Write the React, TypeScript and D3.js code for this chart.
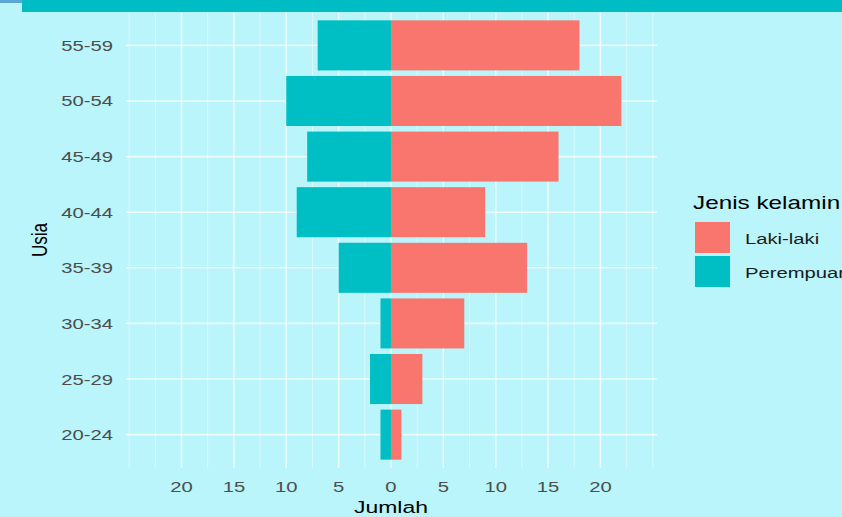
import React from 'react';
import * as d3 from 'd3';

const ageGroups = ['55-59', '50-54', '45-49', '40-44', '35-39', '30-34', '25-29', '20-24'];
const maleCounts = [18, 22, 16, 9, 13, 7, 3, 1];
const femaleCounts = [7, 10, 8, 9, 5, 1, 2, 1];
const majorTicks = [-20, -15, -10, -5, 0, 5, 10, 15, 20];
const minorTicks = [-25, -22.5, -17.5, -12.5, -7.5, -2.5, 2.5, 7.5, 12.5, 17.5, 22.5, 25];
const seriesNames = ['Laki-laki', 'Perempuan'];
const seriesColors = ['#F8766D', '#00BFC4'];

const W = 842;
const H = 517;
const BG = '#b9f5fb';
const SX = 1.35;
const FONT = '"Liberation Sans", Arial, sans-serif';

const panel = { left: 126, right: 657, top: 12, bottom: 468 };

function SText(props: {
  x: number; y: number; size: number; anchor?: string; fill?: string; rotate?: number; sx?: number; children: any;
}) {
  const { x, y, size, anchor = 'start', fill = '#4d4d4d', rotate = 0, sx = SX, children } = props;
  return (
    <text
      transform={`translate(${x},${y}) scale(${sx},1)${rotate ? ` rotate(${rotate})` : ''}`}
      fontSize={size}
      fontFamily={FONT}
      textAnchor={anchor}
      fill={fill}
    >
      {children}
    </text>
  );
}

export default function App() {
  const x = d3.scaleLinear().domain([-25.3, 25.4]).range([panel.left, panel.right]);
  const y = d3
    .scaleBand<string>()
    .domain(ageGroups)
    .range([panel.top, panel.bottom])
    .paddingInner(0.1)
    .paddingOuter(0.15);
  const bw = y.bandwidth();
  const center = (a: string) => (y(a) as number) + bw / 2;

  return (
    <svg
      width={W}
      height={H}
      style={{ position: 'absolute', left: 0, top: 0, display: 'block', background: BG }}
    >
      <rect x={0} y={0} width={W} height={H} fill={BG} />
      {/* grid */}
      {minorTicks.map((t) => (
        <line key={'mi' + t} x1={x(t)} x2={x(t)} y1={panel.top} y2={panel.bottom} stroke="#ffffff" strokeOpacity={0.45} strokeWidth={1} />
      ))}
      {majorTicks.map((t) => (
        <line key={'ma' + t} x1={x(t)} x2={x(t)} y1={panel.top} y2={panel.bottom} stroke="#ffffff" strokeOpacity={0.7} strokeWidth={1.6} />
      ))}
      {ageGroups.map((a) => (
        <line key={'h' + a} x1={panel.left} x2={panel.right} y1={center(a)} y2={center(a)} stroke="#ffffff" strokeOpacity={0.7} strokeWidth={1.6} />
      ))}
      {/* bars */}
      {ageGroups.map((a, i) => (
        <g key={'b' + a}>
          <rect x={x(-femaleCounts[i])} y={y(a)} width={x(0) - x(-femaleCounts[i])} height={bw} fill={seriesColors[1]} />
          <rect x={x(0)} y={y(a)} width={x(maleCounts[i]) - x(0)} height={bw} fill={seriesColors[0]} />
        </g>
      ))}
      {/* y tick labels */}
      {ageGroups.map((a) => (
        <SText key={'yl' + a} x={113} y={center(a) + 5.5} size={15} anchor="end">{a}</SText>
      ))}
      {/* x tick labels */}
      {majorTicks.map((t) => (
        <SText key={'xl' + t} x={x(t)} y={492} size={15} anchor="middle">{String(Math.abs(t))}</SText>
      ))}
      {/* axis titles */}
      <SText x={x(0)} y={513} size={17} anchor="middle" fill="#000000">Jumlah</SText>
      <SText x={47} y={240} size={17} anchor="middle" fill="#000000" rotate={-90} sx={1.25}>Usia</SText>
      {/* legend */}
      <SText x={693} y={209} size={18} fill="#000000">Jenis kelamin</SText>
      {seriesNames.map((s, i) => (
        <g key={'lg' + s}>
          <rect x={695} y={222 + i * 34} width={35} height={31} fill={seriesColors[i]} />
          <SText x={745} y={244 + i * 34} size={15} fill="#1a1a1a">{s}</SText>
        </g>
      ))}
      {/* top banner */}
      <rect x={0} y={0} width={22} height={3} fill="#5aa7d6" />
      <rect x={22} y={0} width={W - 22} height={12} fill="#00bcc5" />
    </svg>
  );
}
